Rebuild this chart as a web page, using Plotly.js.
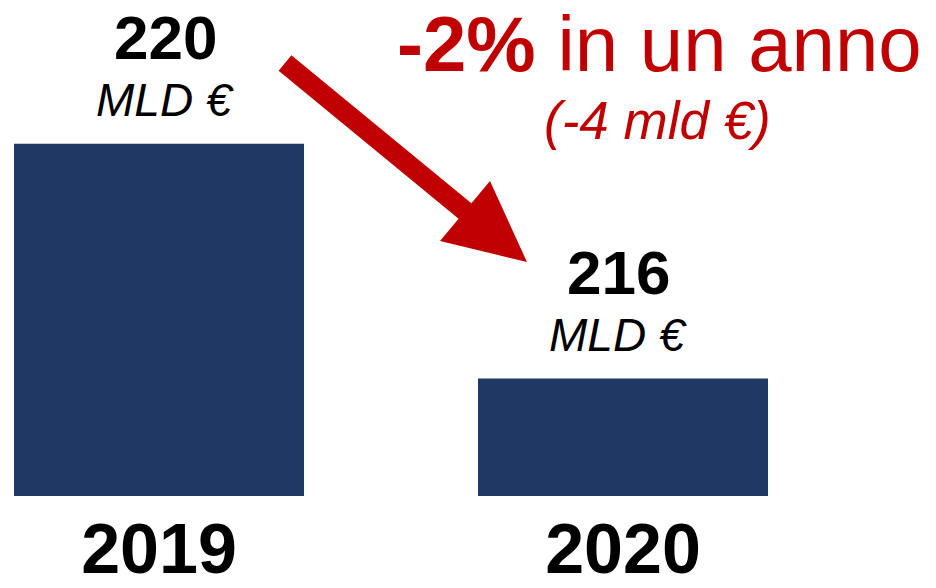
<!DOCTYPE html>
<html>
<head>
<meta charset="utf-8">
<script src="https://cdn.plot.ly/plotly-3.0.1.min.js"></script>
<style>html,body{margin:0;padding:0;background:#fff;}#chart{width:936px;height:588px;}</style>
</head>
<body>
<div id="chart"></div>
<script>
const years = ['2019', '2020'];
const values = [220, 216];
const valueLabels = ['220', '216'];
const unitLabel = 'MLD €';
const changeTitle = '<b>-2%</b> in un anno';
const changeSub = '<i>(-4 mld €)</i>';

const W = 936, H = 588, MB = 92, PH = H - MB;
const px = x => x / W;
const py = y => (PH - y) / PH;

const navy = '#203864';
const red = '#C00000';
const font = 'Liberation Sans, Arial, sans-serif';

// arrow polygon (pixel geometry)
const pts = [[291.4,55.3],[471.4,203.3],[490,181],[527,262],[440,241],[458.6,218.7],[278.6,70.7]];
const path = 'M ' + pts.map(p => px(p[0]).toFixed(5) + ',' + py(p[1]).toFixed(5)).join(' L ') + ' Z';

const annotations = [];
values.forEach((v, i) => {
  annotations.push({x: i, y: v, xref: 'x', yref: 'y', text: '<b>' + valueLabels[i] + '</b>',
    showarrow: false, yanchor: 'bottom', yshift: 70, xshift: i === 0 ? 6 : -5,
    font: {family: font, size: 62, color: '#000'}});
  annotations.push({x: i, y: v, xref: 'x', yref: 'y', text: '<i>' + unitLabel + '</i>',
    showarrow: false, yanchor: 'bottom', yshift: 16, xshift: i === 0 ? 6 : -5,
    font: {family: font, size: 46, color: '#000'}});
});
annotations.push({x: px(659), y: py(44), xref: 'paper', yref: 'paper', text: changeTitle,
  showarrow: false, xanchor: 'center', yanchor: 'middle', font: {family: font, size: 78, color: red}});
annotations.push({x: px(657), y: py(121), xref: 'paper', yref: 'paper', text: changeSub,
  showarrow: false, xanchor: 'center', yanchor: 'middle', font: {family: font, size: 53, color: red}});

const data = [{
  type: 'bar', x: [0, 1], y: values, width: [0.625, 0.625],
  marker: {color: navy}, hoverinfo: 'none'
}];

const layout = {
  width: W, height: H,
  margin: {l: 0, r: 0, t: 0, b: MB, pad: 0},
  paper_bgcolor: '#fff', plot_bgcolor: '#fff',
  showlegend: false,
  xaxis: {range: [-159/464, -159/464 + W/464], tickmode: 'array', tickvals: [0, 1], ticktext: years,
    showgrid: false, zeroline: false, showline: false, ticks: '', ticklabelstandoff: 6,
    tickfont: {family: font, size: 70, color: '#000', weight: 'bold'}, fixedrange: true},
  yaxis: {range: [214, 220 + 144/58.75], visible: false, showgrid: false, zeroline: false, fixedrange: true},
  shapes: [{type: 'path', xref: 'paper', yref: 'paper', path: path, fillcolor: red, line: {width: 0}}],
  annotations: annotations
};

Plotly.newPlot('chart', data, layout, {displayModeBar: false, staticPlot: true});
</script>
</body>
</html>
